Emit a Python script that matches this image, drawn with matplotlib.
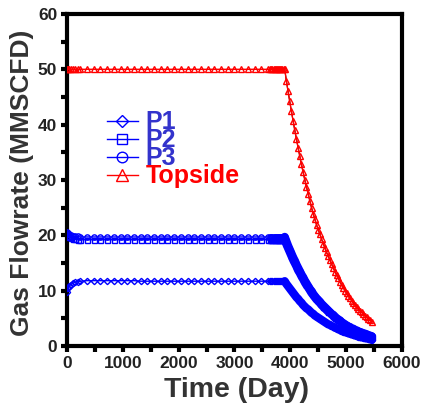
import matplotlib
matplotlib.use('AGG')

import numpy as np
import matplotlib.pyplot as plt

plt.rcParams['font.family'] = ['Liberation Sans', 'DejaVu Sans']
plt.rcParams['font.weight'] = 'bold'

# time (day): start-up steps, plateau, dense block before decline, decline (30 d)
time_days = [
    0, 20, 40, 70, 100, 140, 190, 240,
    360, 480, 600, 720, 840, 960, 1080, 1200, 1320, 1440, 1560, 1680, 1800, 1920,
    2040, 2160, 2280, 2400, 2520, 2640, 2760, 2880, 3000, 3120, 3240, 3360, 3480, 3600,
    3640, 3660, 3680, 3700, 3720, 3740, 3760, 3780, 3800, 3820, 3840, 3860, 3880,
    3900, 3930, 3960, 3990, 4020, 4050, 4080, 4110, 4140, 4170, 4200, 4230, 4260,
    4290, 4320, 4350, 4380, 4410, 4440, 4470, 4500, 4530, 4560, 4590, 4620, 4650,
    4680, 4710, 4740, 4770, 4800, 4830, 4860, 4890, 4920, 4950, 4980, 5010, 5040,
    5070, 5100, 5130, 5160, 5190, 5220, 5250, 5280, 5310, 5340, 5370, 5400, 5430, 5460,
]

p1 = [
    9.8, 10.4, 10.8, 11.1, 11.3, 11.5, 11.6, 11.7,
    11.8, 11.8, 11.8, 11.8, 11.8, 11.8, 11.8, 11.8, 11.7, 11.7, 11.7, 11.7, 11.7, 11.7,
    11.7, 11.7, 11.7, 11.7, 11.7, 11.7, 11.7, 11.7, 11.7, 11.7, 11.7, 11.7, 11.7, 11.7,
    11.7, 11.7, 11.7, 11.7, 11.7, 11.7, 11.7, 11.7, 11.7, 11.7, 11.7, 11.7, 11.7,
    11.7, 11.2, 10.8, 10.4, 10.0, 9.6, 9.2, 8.8, 8.5, 8.1, 7.8, 7.4, 7.1,
    6.8, 6.6, 6.3, 6.0, 5.8, 5.5, 5.3, 5.1, 4.9, 4.7, 4.5, 4.3, 4.1,
    3.9, 3.8, 3.6, 3.5, 3.3, 3.2, 3.0, 2.9, 2.7, 2.6, 2.5, 2.4, 2.3,
    2.2, 2.1, 2.0, 1.9, 1.8, 1.7, 1.6, 1.55, 1.5, 1.4, 1.35, 1.3, 1.2, 1.1,
]

p2 = [
    20.2, 19.9, 19.7, 19.5, 19.4, 19.3, 19.2, 19.2,
    19.2, 19.2, 19.2, 19.2, 19.2, 19.2, 19.2, 19.2, 19.2, 19.2, 19.2, 19.2, 19.2, 19.2,
    19.2, 19.2, 19.2, 19.2, 19.2, 19.2, 19.2, 19.2, 19.2, 19.2, 19.2, 19.2, 19.2, 19.2,
    19.2, 19.2, 19.2, 19.2, 19.2, 19.2, 19.2, 19.2, 19.2, 19.2, 19.2, 19.2, 19.2,
    19.2, 18.4, 17.7, 17.0, 16.3, 15.6, 15.0, 14.4, 13.7, 13.2, 12.6, 12.1, 11.5,
    11.0, 10.6, 10.1, 9.6, 9.2, 8.8, 8.4, 8.1, 7.8, 7.4, 7.1, 6.8, 6.5,
    6.2, 6.0, 5.7, 5.4, 5.1, 4.9, 4.7, 4.5, 4.2, 4.0, 3.8, 3.6, 3.5,
    3.3, 3.1, 3.0, 2.8, 2.7, 2.6, 2.5, 2.3, 2.2, 2.1, 2.0, 1.9, 1.8, 1.7,
]

p3 = [
    20.6, 20.4, 20.2, 20.0, 19.9, 19.8, 19.8, 19.7,
    19.7, 19.7, 19.7, 19.7, 19.7, 19.7, 19.7, 19.7, 19.7, 19.7, 19.7, 19.7, 19.7, 19.7,
    19.7, 19.7, 19.7, 19.7, 19.7, 19.7, 19.7, 19.7, 19.7, 19.7, 19.7, 19.7, 19.7, 19.7,
    19.7, 19.7, 19.7, 19.7, 19.7, 19.7, 19.7, 19.7, 19.7, 19.7, 19.7, 19.7, 19.7,
    19.7, 18.9, 18.1, 17.4, 16.7, 16.0, 15.4, 14.7, 14.1, 13.5, 12.9, 12.4, 11.8,
    11.3, 10.8, 10.3, 9.9, 9.4, 9.0, 8.6, 8.3, 8.0, 7.6, 7.3, 7.0, 6.7,
    6.4, 6.1, 5.8, 5.6, 5.3, 5.0, 4.8, 4.6, 4.3, 4.1, 3.9, 3.7, 3.5,
    3.4, 3.2, 3.1, 2.9, 2.8, 2.6, 2.5, 2.4, 2.3, 2.2, 2.1, 1.9, 1.85, 1.75,
]

topside = [
    50.0, 50.0, 50.0, 50.0, 50.0, 50.0, 50.0, 50.0,
    50.0, 50.0, 50.0, 50.0, 50.0, 50.0, 50.0, 50.0, 50.0, 50.0, 50.0, 50.0, 50.0, 50.0,
    50.0, 50.0, 50.0, 50.0, 50.0, 50.0, 50.0, 50.0, 50.0, 50.0, 50.0, 50.0, 50.0, 50.0,
    50.0, 50.0, 50.0, 50.0, 50.0, 50.0, 50.0, 50.0, 50.0, 50.0, 50.0, 50.0, 50.0,
    50.0, 47.9, 46.0, 44.2, 42.4, 40.7, 39.0, 37.4, 35.8, 34.3, 32.8, 31.4, 30.0,
    28.7, 27.5, 26.2, 25.0, 23.9, 22.9, 21.9, 21.0, 20.2, 19.3, 18.5, 17.7, 16.9,
    16.2, 15.5, 14.8, 14.1, 13.4, 12.8, 12.2, 11.6, 11.0, 10.5, 10.0, 9.5, 9.0,
    8.6, 8.2, 7.8, 7.4, 7.0, 6.7, 6.4, 6.1, 5.8, 5.5, 5.2, 4.9, 4.7, 4.4,
]

decline_start = 3900

t = np.array(time_days)
dec = t >= decline_start
blue = '#0000ff'
red = '#ff0000'

fig = plt.figure(figsize=(4.32, 4.07), dpi=100)
ax = fig.add_axes([0.155, 0.150, 0.7755, 0.8157])

# the blue decline is a solid band of markers in the original
for series in (p1, p2, p3):
    ax.plot(t[dec], np.array(series)[dec], color=blue, lw=6, zorder=2,
            solid_capstyle='round')

ax.plot(t, p1, color=blue, lw=1, marker='D', ms=3.2, mfc='none', mew=1,
        label='P1', zorder=3)
ax.plot(t, p2, color=blue, lw=1, marker='s', ms=3.6, mfc='none', mew=1,
        label='P2', zorder=3)
ax.plot(t, p3, color=blue, lw=1, marker='o', ms=3.8, mfc='none', mew=1,
        label='P3', zorder=3)
ax.plot(t[dec], np.array(topside)[dec], color='k', lw=0.8, zorder=3)
ax.plot(t, topside, color=red, lw=1, marker='^', ms=4, mfc='none', mew=1,
        label='Topside', zorder=4)

ax.set_xlim(0, 6000)
ax.set_ylim(0, 60)
ax.set_xticks(np.arange(0, 6001, 1000))
ax.set_xticks(np.arange(0, 6001, 500), minor=True)
ax.set_yticks(np.arange(0, 61, 10))
ax.set_yticks(np.arange(0, 61, 5), minor=True)

for side in ax.spines.values():
    side.set_linewidth(3)
ax.tick_params(which='both', direction='out', length=4, width=3,
               top=False, right=False, color='k')
ax.tick_params(which='major', labelsize=12.5, labelcolor='#222222', pad=3)
for lab in ax.get_xticklabels() + ax.get_yticklabels():
    lab.set_fontweight('bold')

fig.text(0.051, 0.55, 'Gas Flowrate (MMSCFD)', rotation=90, ha='center',
         va='center', fontsize=19, fontweight='bold', color='#333333')
fig.text(0.548, 0.042, 'Time (Day)', ha='center', va='center',
         fontsize=20.5, fontweight='bold', color='#333333')

leg = ax.legend(loc='upper left', bbox_to_anchor=(0.089, 0.74), frameon=False,
                prop={'size': 18, 'weight': 'bold'}, labelspacing=-0.24,
                handlelength=1.25, handletextpad=0.3, markerscale=2.0,
                borderaxespad=0)
for txt, col in zip(leg.get_texts(), ['#3333cc', '#3333cc', '#3333cc', red]):
    txt.set_color(col)

fig.savefig('out.png', dpi=100)
